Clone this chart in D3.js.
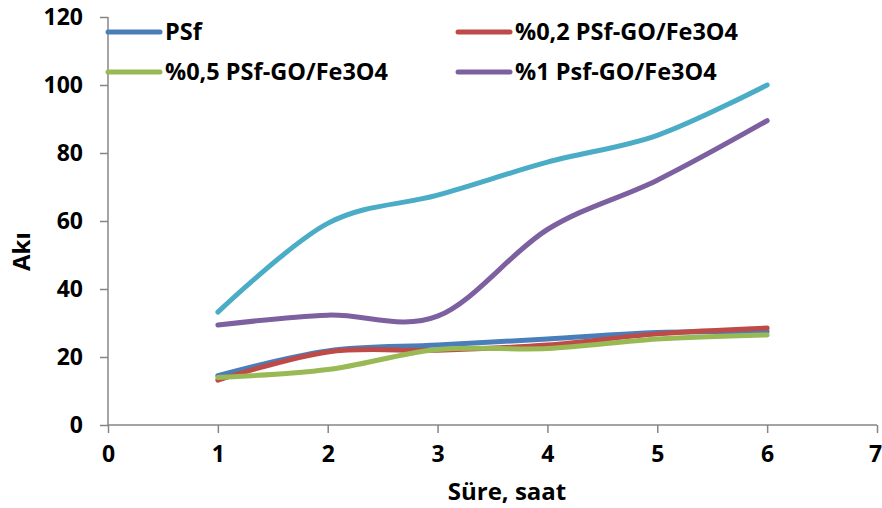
<!DOCTYPE html>
<html>
<head>
<meta charset="utf-8">
<script src="https://cdn.jsdelivr.net/npm/d3@7"></script>
<style>
  html, body { margin: 0; padding: 0; background: #fff; }
  svg { display: block; }
  text { font-family: "Open Sans", Lato, sans-serif; font-weight: bold; fill: #000; }
</style>
</head>
<body>
<svg id="chart" width="882" height="508"></svg>
<script>
// Flux (Akı) over time (Süre, saat) for the membrane series
const hours = [1, 2, 3, 4, 5, 6];
const seriesNames = ["PSf", "%0,2 PSf-GO/Fe3O4", "%0,5 PSf-GO/Fe3O4", "%1 Psf-GO/Fe3O4", ""];
const psf      = [14.5, 21.8, 23.5, 25.3, 27.2, 27.5];
const go02     = [13.2, 21.5, 22.0, 23.5, 26.8, 28.5];
const go05     = [14.0, 16.3, 22.2, 22.5, 25.3, 26.5];
const go1      = [29.4, 32.3, 32.0, 57.5, 72.0, 89.5];
const series5  = [33.2, 59.3, 67.6, 77.3, 85.2, 100.0];
const seriesColors = ["#4A7EBB", "#BE4B48", "#98B954", "#7D60A0", "#4BACC6"];
const xTicks = [0, 1, 2, 3, 4, 5, 6, 7];
const yTicks = [0, 20, 40, 60, 80, 100, 120];
const xTitle = "Süre, saat";
const yTitle = "Akı";

const allValues = [psf, go02, go05, go1, series5];

const svg = d3.select("#chart");
const x = d3.scaleLinear().domain([0, 7]).range([108, 877]);
const y = d3.scaleLinear().domain([0, 120]).range([425, 17]);

const axisColor = "#868686";
const fontFam = "'Open Sans', Lato, sans-serif";

// y axis
const yAxis = svg.append("g").attr("transform", `translate(${x(0)},0)`)
  .call(d3.axisLeft(y).tickValues(yTicks).tickFormat(d3.format("d")).tickSize(8).tickPadding(17));
// x axis
const xAxis = svg.append("g").attr("transform", `translate(0,${y(0)})`)
  .call(d3.axisBottom(x).tickValues(xTicks).tickFormat(d3.format("d")).tickSize(8).tickPadding(13));

[yAxis, xAxis].forEach(g => {
  g.select(".domain").attr("stroke", axisColor).attr("stroke-width", 1.5);
  g.selectAll(".tick line").attr("stroke", axisColor).attr("stroke-width", 1.5);
  g.selectAll(".tick text").style("font-size", "23px").style("font-family", fontFam)
    .style("font-weight", "bold").attr("fill", "#000");
});
// keep the last x label inside the right edge
xAxis.selectAll(".tick text").filter(d => d === 7).attr("dx", "-2px");
// axis lines without outer ticks
yAxis.select(".domain").attr("d", `M0,${y(120)}V${y(0)}`);
xAxis.select(".domain").attr("d", `M${x(0)},0H${x(7)}`);

// axis titles
svg.append("text").attr("x", 507).attr("y", 500).attr("text-anchor", "middle")
  .style("font-size", "24px").text(xTitle);
svg.append("text").attr("transform", `translate(30,${y(51)}) rotate(-90)`).attr("text-anchor", "middle")
  .style("font-size", "24px").text(yTitle);

// smoothed lines
const line = d3.line().x((d, i) => x(hours[i])).y(d => y(d)).curve(d3.curveCatmullRom.alpha(0));
allValues.forEach((vals, i) => {
  svg.append("path").datum(vals).attr("d", line)
    .attr("fill", "none").attr("stroke", seriesColors[i])
    .attr("stroke-width", 5).attr("stroke-linecap", "round").attr("stroke-linejoin", "round");
});

// legend (two columns, two rows)
const legendPos = [[108, 32], [458, 32], [108, 72], [458, 72]];
legendPos.forEach(([lx, ly], i) => {
  const g = svg.append("g").attr("transform", `translate(${lx},${ly})`);
  g.append("line").attr("x1", 0).attr("x2", 52).attr("y1", 0).attr("y2", 0)
    .attr("stroke", seriesColors[i]).attr("stroke-width", 5).attr("stroke-linecap", "round");
  g.append("text").attr("x", 57).attr("y", 0).attr("dy", "0.36em")
    .style("font-size", "23.5px").text(seriesNames[i]);
});
</script>
</body>
</html>
